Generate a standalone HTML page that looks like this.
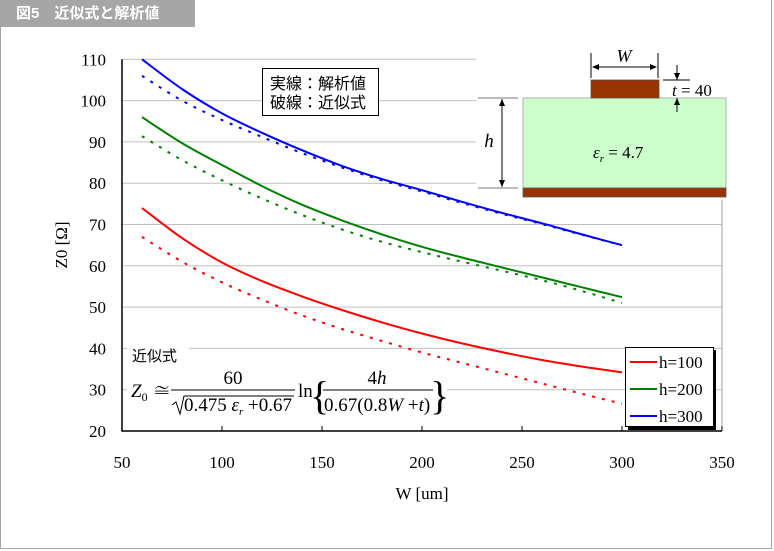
<!DOCTYPE html>
<html><head><meta charset="utf-8">
<style>
html,body{margin:0;padding:0;background:#fff;}
body{width:774px;height:551px;position:relative;overflow:hidden;font-family:"Liberation Serif","Noto Serif CJK SC",serif;}
#frame{position:absolute;left:0;top:0;width:770px;height:548px;border:1px solid #a6a6a6;border-top:none;}
#hdr{position:absolute;left:0;top:0;width:195px;height:27px;background:#a6a6a6;color:#fff;font:bold 15px "Liberation Sans","Noto Sans CJK JP",sans-serif;line-height:27px;padding-left:16px;box-sizing:border-box;}
svg{position:absolute;left:0;top:0;}
</style></head><body>
<div id="frame"></div>
<div id="hdr">図5　近似式と解析値</div>
<svg id="chart" width="774" height="551"></svg>
<script>
const widths=[60,80,100,120,140,160,180,200,220,240,260,280,300];
const h100Analytic=[74,66.7,60.8,56.3,52.6,49.3,46.3,43.6,41.2,39.1,37.2,35.6,34.2];
const h100Approx=[67,61,56,51.8,48,44.7,41.8,39,36.5,34,31.5,29,26.6];
const h200Analytic=[96,89.7,84.4,79.3,74.8,71,67.6,64.6,62,59.6,57.2,54.8,52.4];
const h200Approx=[91.4,85.6,80.7,76.3,72.3,68.8,65.8,63.3,61,58.8,56.5,53.9,51];
const h300Analytic=[110,102.8,96.9,92.2,88,84.2,81,78.3,75.5,72.8,70.3,67.6,65];
const h300Approx=[106,100,95.3,91.2,87.3,83.8,80.7,78,75.2,72.6,70.1,67.5,65];
const xTicks=[50,100,150,200,250,300,350];
const yTicks=[20,30,40,50,60,70,80,90,100,110];
const legendLabels=["h=100","h=200","h=300"];
const colors=["#ff0000","#008000","#0000ff"];

const NS="http://www.w3.org/2000/svg";
const svg=document.getElementById('chart');
const L=122,R=722,T=59.3,B=431;
const xs=w=>L+(w-50)*(R-L)/300;
const ys=v=>B-(v-20)*(B-T)/90;
function mk(tag,attrs,parent){const e=document.createElementNS(NS,tag);for(const k in attrs)e.setAttribute(k,attrs[k]);(parent||svg).appendChild(e);return e;}
function txt(s,attrs,parent){const e=mk('text',attrs,parent);e.textContent=s;return e;}
function smooth(vals){
 const p=widths.map((w,j)=>[xs(w),ys(vals[j])]);
 let d='M'+p[0][0].toFixed(1)+','+p[0][1].toFixed(1);
 for(let i=0;i<p.length-1;i++){
  const p0=p[i-1]||p[i],p1=p[i],p2=p[i+1],p3=p[i+2]||p2;
  const c1=[p1[0]+(p2[0]-p0[0])/6,p1[1]+(p2[1]-p0[1])/6];
  const c2=[p2[0]-(p3[0]-p1[0])/6,p2[1]-(p3[1]-p1[1])/6];
  d+=` C${c1[0].toFixed(1)},${c1[1].toFixed(1)} ${c2[0].toFixed(1)},${c2[1].toFixed(1)} ${p2[0].toFixed(1)},${p2[1].toFixed(1)}`;
 }
 return d;
}

yTicks.forEach(v=>{
 if(v!==20){
 const g=mk('line',{x1:L,x2:R,y1:ys(v),y2:ys(v),stroke:'#c0c0c0','stroke-width':1});
 
 }
 const t=txt(String(v),{x:106,y:ys(v)+6,'text-anchor':'end','font-size':17});
 
 
});
mk('line',{x1:R,x2:R,y1:T,y2:B,stroke:'#a0a0a0','stroke-width':1});
const ax=mk('path',{d:`M${L},${T} L${L},${B} L${R},${B}`,fill:'none',stroke:'#000','stroke-width':1.5});


xTicks.forEach(w=>{
 mk('line',{x1:xs(w),x2:xs(w),y1:B,y2:B-5,stroke:'#000','stroke-width':1});
 const t=txt(String(w),{x:xs(w),y:468,'text-anchor':'middle','font-size':17});
 
 
});
{const t=txt('W [um]',{x:422,y:499,'text-anchor':'middle','font-size':17});
 
 const t2=txt('Z0 [Ω]',{x:0,y:0,'text-anchor':'middle','font-size':17,transform:'translate(67,245) rotate(-90)'});
 }

// inset diagram
const dg=mk('g',{});


mk('rect',{x:476,y:50,width:252,height:150,fill:'#fff'},dg);
mk('rect',{x:523,y:98,width:203,height:90,fill:'#ccffcc',stroke:'#b0b0b0','stroke-width':1},dg);
mk('rect',{x:523,y:188,width:203,height:9,fill:'#993300',stroke:'#555','stroke-width':0.8},dg);
mk('rect',{x:591,y:80,width:68,height:18,fill:'#993300',stroke:'#555','stroke-width':0.8},dg);
mk('line',{x1:591,x2:591,y1:53,y2:78,stroke:'#000'},dg);
mk('line',{x1:658,x2:658,y1:53,y2:78,stroke:'#000'},dg);
mk('line',{x1:593,x2:656,y1:67,y2:67,stroke:'#000'},dg);
mk('path',{d:'M592,67 l7,-3 v6z M657,67 l-7,-3 v6z',fill:'#000'},dg);
txt('W',{x:624,y:62,'text-anchor':'middle','font-size':18,'font-style':'italic'},dg);
mk('line',{x1:663,x2:690,y1:80,y2:80,stroke:'#000'},dg);
mk('line',{x1:677,x2:677,y1:65,y2:80,stroke:'#000'},dg);
mk('line',{x1:677,x2:677,y1:98,y2:112,stroke:'#000'},dg);
mk('path',{d:'M677,80 l-3,-7 h6z M677,98 l-3,7 h6z',fill:'#000'},dg);
const tt=txt('',{x:672,y:96,'font-size':17},dg);
tt.innerHTML='<tspan font-style="italic">t</tspan> = 40';
mk('line',{x1:478,x2:518,y1:98,y2:98,stroke:'#777'},dg);
mk('line',{x1:478,x2:518,y1:188,y2:188,stroke:'#777'},dg);
mk('line',{x1:502,x2:502,y1:99,y2:187,stroke:'#000'},dg);
mk('path',{d:'M502,99 l-3,7 h6z M502,187 l-3,-7 h6z',fill:'#000'},dg);
txt('h',{x:489,y:147,'text-anchor':'middle','font-size':19,'font-style':'italic'},dg);
const er=txt('',{x:593,y:158,'font-size':17},dg);
er.innerHTML='<tspan font-style="italic">ε</tspan><tspan font-size="11" dy="4" font-style="italic">r</tspan><tspan dy="-4"> = 4.7</tspan>';

// series
const series=[[h100Analytic,h100Approx],[h200Analytic,h200Approx],[h300Analytic,h300Approx]];
series.forEach((s,i)=>{
 const a=mk('path',{d:smooth(s[0]),fill:'none',stroke:colors[i],'stroke-width':2});
 
 
 const b=mk('path',{d:smooth(s[1]),fill:'none',stroke:colors[i],'stroke-width':2,'stroke-dasharray':'3 7'});
 
 
});

// note box
const nb=mk('g',{});


mk('rect',{x:262.5,y:68.5,width:116,height:47,fill:'#fff',stroke:'#000','stroke-width':1},nb);
txt('実線：解析値',{x:270,y:89,'font-size':16,'font-family':'"Liberation Sans","Noto Sans CJK JP",sans-serif'},nb);
txt('破線：近似式',{x:270,y:108,'font-size':16,'font-family':'"Liberation Sans","Noto Sans CJK JP",sans-serif'},nb);

// formula
const fg=mk('g',{});


mk('rect',{x:127,y:343,width:62,height:22,fill:'#fff'},fg);
mk('rect',{x:127,y:365,width:320,height:50,fill:'#fff'},fg);
txt('近似式',{x:132,y:361,'font-size':15,'font-family':'"Liberation Sans","Noto Sans CJK JP",sans-serif'},fg);
const z=txt('',{x:131,y:397,'font-size':19},fg);
z.innerHTML='<tspan font-style="italic">Z</tspan><tspan font-size="12" dy="4">0</tspan><tspan dy="-4"> ≅</tspan>';
txt('60',{x:233,y:384,'text-anchor':'middle','font-size':19},fg);
mk('line',{x1:171,x2:295,y1:390,y2:390,stroke:'#000'},fg);
mk('path',{d:'M172,405 l4,-3 l4,12 l4,-18 h110',fill:'none',stroke:'#000','stroke-width':1},fg);
const den=txt('',{x:184,y:411,'font-size':19},fg);
den.innerHTML='0.475<tspan font-style="italic"> ε</tspan><tspan font-size="11" dy="4" font-style="italic">r</tspan><tspan dy="-4"> +0.67</tspan>';
txt('ln',{x:298,y:397,'font-size':19},fg);
txt('{',{x:310,y:409,'font-size':40,'font-weight':'100'},fg);
txt('}',{x:430,y:409,'font-size':40},fg);
const nm=txt('',{x:377,y:384,'text-anchor':'middle','font-size':19},fg);
nm.innerHTML='4<tspan font-style="italic">h</tspan>';
mk('line',{x1:323,x2:433,y1:390,y2:390,stroke:'#000'},fg);
const d2=txt('',{x:324,y:411,'font-size':19},fg);
d2.innerHTML='0.67(0.8<tspan font-style="italic">W</tspan> +<tspan font-style="italic">t</tspan>)';

// legend
const lg=mk('g',{});


mk('rect',{x:628,y:350,width:88,height:80,fill:'#000'},lg);
mk('rect',{x:625.5,y:347.5,width:88,height:79,fill:'#fff',stroke:'#000','stroke-width':1},lg);
legendLabels.forEach((lab,i)=>{
 const y=362+i*27;
 const ln=mk('line',{x1:630,x2:657,y1:y,y2:y,stroke:colors[i],'stroke-width':2},lg);
 
 
 const t=txt(lab,{x:659,y:y+6,'font-size':17},lg);
 
 
});
</script>
</body></html>
